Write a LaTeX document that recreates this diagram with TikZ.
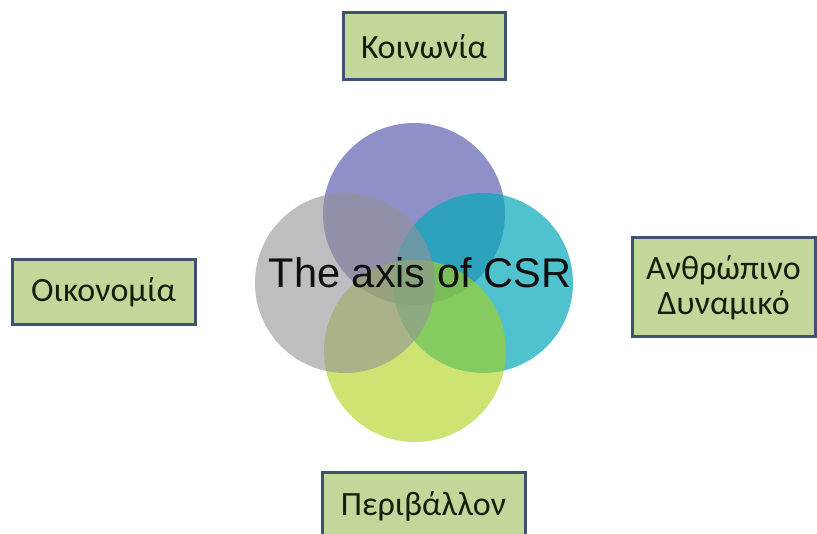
\documentclass[tikz,border=0pt]{standalone}
\usepackage{fontspec}
\setmainfont{Carlito}
\newfontfamily\arialf{Liberation Sans}
\definecolor{cpurple}{RGB}{108,108,182}
\definecolor{cteal}{RGB}{5,169,184}
\definecolor{cyellow}{RGB}{172,210,22}
\definecolor{cgray}{RGB}{147,147,150}
\definecolor{boxfill}{RGB}{196,215,155}
\definecolor{boxline}{RGB}{63,82,112}
\definecolor{boxtext}{RGB}{22,30,12}
\tikzset{
  labelbox/.style={draw=boxline, line width=3pt, fill=boxfill, text=boxtext,
    inner sep=0pt, align=center, font=\fontsize{34}{35}\selectfont},
  ring/.style={fill opacity=#1}
}
\begin{document}
\begin{tikzpicture}[x=1pt,y=-1pt]
\useasboundingbox (0,0) rectangle (817,534);
\clip (0,0) rectangle (817,534);
\fill[white] (0,0) rectangle (817,534);
% circles
\fill[cpurple, ring=0.75] (414,214) circle[radius=91pt];
\fill[cteal, ring=0.7] (483,283) circle[radius=90pt];
\fill[cyellow, ring=0.6] (415,351) circle[radius=91pt];
\fill[cgray, ring=0.6] (345,283) circle[radius=90pt];
\node[anchor=base, inner sep=0pt, text={rgb,255:red,15;green,15;blue,15}, font=\arialf\fontsize{41.5}{41.5}\selectfont] (axis) at (420,288) {The axis of CSR};
% boxes
\node[labelbox, minimum width=162pt, minimum height=67pt] (soc) at (424,46.5) {Κοινωνία};
\node[labelbox, minimum width=183pt, minimum height=65pt] (eco) at (103.5,292.5) {Οικονομία};
\node[labelbox, minimum width=183pt, minimum height=99pt] (hum) at (723.5,287.5) {Ανθρώπινο\\Δυναμικό};
\node[labelbox, minimum width=203pt, minimum height=66pt] (env) at (423.5,506) {Περιβάλλον};
\end{tikzpicture}
\end{document}
